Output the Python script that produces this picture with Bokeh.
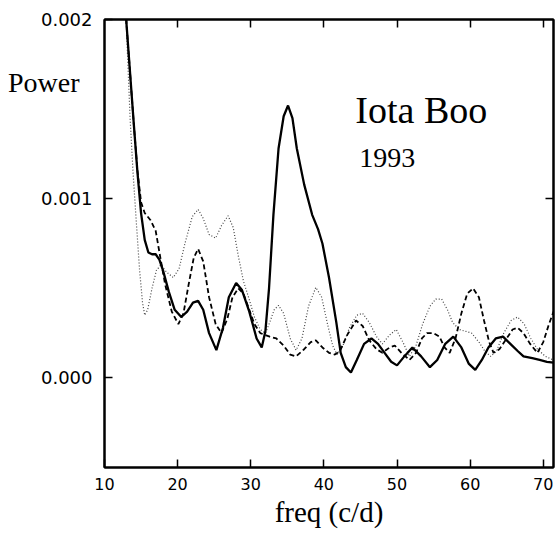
import numpy as np
from bokeh.plotting import figure
from bokeh.models import (LinearAxis, FixedTicker, PrintfTickFormatter, Label, Range1d,
                          CustomJSTickFormatter)
from bokeh.embed import file_html
from bokeh.resources import INLINE

# ---- data (power in units of 1e-3) ----
solid_freq = [12.5, 13.0, 13.5, 14.0, 14.5, 15.0, 15.5, 16.0, 16.5, 17.0, 17.5, 18.0, 18.8, 19.6,
              20.5, 21.3, 22.1, 22.8, 23.5, 24.3, 25.3, 26.2, 27.0, 28.0, 28.8, 29.8, 30.8, 31.5,
              32.0, 32.5, 33.1, 33.8, 34.5, 35.1, 35.7, 36.3, 37.3, 38.4, 39.2, 39.8, 40.7, 41.7,
              42.3, 43.0, 43.7, 44.5, 45.5, 46.5, 47.4, 48.3, 49.2, 50.0, 51.0, 52.1, 53.3, 54.5,
              55.5, 56.6, 57.7, 58.8, 59.8, 60.7, 61.6, 62.5, 63.5, 64.5, 65.5, 66.5, 67.3, 68.5,
              69.5, 70.5, 71.4]
solid_pow = [2.45, 1.98, 1.70, 1.42, 1.15, 0.92, 0.77, 0.70, 0.69, 0.69, 0.66, 0.60, 0.48, 0.38,
             0.34, 0.37, 0.42, 0.43, 0.38, 0.25, 0.155, 0.28, 0.45, 0.53, 0.49, 0.37, 0.22, 0.17,
             0.26, 0.50, 0.91, 1.28, 1.46, 1.52, 1.45, 1.28, 1.08, 0.91, 0.83, 0.75, 0.56, 0.31,
             0.14, 0.06, 0.03, 0.10, 0.19, 0.22, 0.19, 0.14, 0.09, 0.07, 0.12, 0.17, 0.12, 0.06,
             0.10, 0.19, 0.23, 0.17, 0.08, 0.045, 0.10, 0.17, 0.22, 0.23, 0.19, 0.15, 0.12, 0.11,
             0.10, 0.09, 0.085]

dashed_freq = [12.5, 13.0, 13.5, 14.0, 14.5, 15.0, 15.5, 16.3, 17.0, 17.6, 18.3, 19.2, 20.1, 20.8,
               21.5, 22.2, 22.8, 23.5, 24.3, 25.2, 26.0, 26.8, 27.5, 28.3, 29.0, 29.8, 30.5, 31.3,
               32.6, 33.5, 34.5, 35.4, 36.2, 37.3, 38.2, 38.9, 39.8, 40.7, 41.5, 42.2, 43.2, 44.4,
               45.3, 46.2, 47.2, 48.0, 49.0, 49.7, 50.6, 51.7, 52.6, 53.4, 54.1, 55.0, 55.8, 56.5,
               57.2, 58.0, 58.8, 59.6, 60.4, 61.2, 61.9, 62.6, 63.2, 64.0, 65.0, 65.8, 66.5, 67.3,
               68.2, 69.2, 70.0, 70.7, 71.4]
dashed_pow = [2.45, 1.98, 1.70, 1.42, 1.16, 0.98, 0.92, 0.88, 0.82, 0.68, 0.52, 0.37, 0.30, 0.36,
              0.52, 0.67, 0.72, 0.65, 0.45, 0.30, 0.25, 0.33, 0.45, 0.50, 0.47, 0.38, 0.30, 0.25,
              0.23, 0.22, 0.18, 0.13, 0.12, 0.16, 0.20, 0.21, 0.17, 0.14, 0.13, 0.15, 0.24, 0.32,
              0.29, 0.21, 0.16, 0.14, 0.17, 0.18, 0.14, 0.10, 0.14, 0.22, 0.25, 0.25, 0.23, 0.17,
              0.14, 0.22, 0.36, 0.47, 0.50, 0.45, 0.32, 0.20, 0.14, 0.16, 0.22, 0.27, 0.28, 0.25,
              0.19, 0.14, 0.20, 0.29, 0.37]

dotted_freq = [12.5, 13.0, 13.5, 13.9, 14.3, 14.8, 15.2, 15.5, 15.9, 16.5, 17.1, 17.7, 18.5, 19.4,
               20.2, 21.0, 22.0, 22.8, 23.5, 24.3, 25.2, 26.0, 26.9, 27.6, 28.3, 29.0, 29.7, 30.5,
               31.3, 32.0, 32.6, 33.2, 33.8, 34.5, 35.4, 36.2, 37.0, 37.9, 38.9, 39.7, 40.5, 41.2,
               41.8, 42.6, 43.5, 44.5, 45.3, 46.2, 47.2, 48.0, 49.0, 49.9, 50.8, 51.7, 52.6, 53.5,
               54.5, 55.3, 56.1, 56.9, 57.6, 58.5, 59.4, 60.2, 61.2, 62.0, 62.8, 63.6, 64.6, 65.6,
               66.5, 67.4, 68.3, 69.2, 70.3, 71.4]
dotted_pow = [2.45, 1.95, 1.45, 1.15, 0.90, 0.60, 0.42, 0.35, 0.38, 0.50, 0.60, 0.63, 0.59, 0.56,
              0.61, 0.75, 0.90, 0.94, 0.89, 0.80, 0.78, 0.85, 0.905, 0.84, 0.68, 0.54, 0.45, 0.34,
              0.27, 0.25, 0.31, 0.38, 0.405, 0.36, 0.22, 0.155, 0.22, 0.40, 0.505, 0.45, 0.30, 0.18,
              0.13, 0.18, 0.28, 0.35, 0.36, 0.31, 0.23, 0.19, 0.24, 0.27, 0.20, 0.12, 0.18, 0.30,
              0.40, 0.44, 0.44, 0.38, 0.31, 0.27, 0.26, 0.25, 0.20, 0.15, 0.12, 0.15, 0.25, 0.32,
              0.34, 0.30, 0.22, 0.16, 0.12, 0.10]

x_ticks = [10, 20, 30, 40, 50, 60, 70]
y_ticks = [0.0, 0.001, 0.002]
power_label_pos = [0.001646]

SCALE = 1e-3

p = figure(width=557, height=534,
           x_range=Range1d(10, 71.4), y_range=Range1d(-0.0005, 0.002),
           output_backend="svg", toolbar_location=None,
           min_border_left=104, min_border_right=4, min_border_top=19, min_border_bottom=67)
p.xgrid.visible = False
p.ygrid.visible = False
p.outline_line_color = "black"
p.outline_line_width = 2
p.background_fill_color = "white"
p.border_fill_color = "white"

tick_font = "DejaVu Sans"
serif = "Liberation Serif"

xa = p.xaxis[0]
xa.ticker = FixedTicker(ticks=x_ticks)
xa.major_tick_in = 8
xa.major_tick_out = 0
xa.minor_tick_line_color = None
xa.axis_line_width = 2
xa.major_tick_line_width = 1.5
xa.major_label_text_font = tick_font
xa.major_label_text_font_size = "16px"
xa.major_label_text_color = "black"
xa.major_label_standoff = 10
xa.axis_label = "freq (c/d)"
xa.axis_label_text_font = serif
xa.axis_label_text_font_style = "normal"
xa.axis_label_text_font_size = "29px"
xa.axis_label_text_color = "black"
xa.axis_label_standoff = 3

ya = p.yaxis[0]
ya.ticker = FixedTicker(ticks=y_ticks)
ya.formatter = PrintfTickFormatter(format="%.3f")
ya.major_tick_in = 8
ya.major_tick_out = 0
ya.minor_tick_line_color = None
ya.axis_line_width = 2
ya.major_tick_line_width = 1.5
ya.major_label_text_font = tick_font
ya.major_label_text_font_size = "18px"
ya.major_label_text_color = "black"
ya.major_label_standoff = 12

# "Power" label, drawn as the tick label of an outer, line-less axis
pw = LinearAxis(ticker=FixedTicker(ticks=power_label_pos),
                formatter=CustomJSTickFormatter(code="return 'Power'"),
                axis_line_color=None, major_tick_line_color=None, minor_tick_line_color=None,
                major_tick_in=0, major_tick_out=0, major_label_standoff=-42,
                major_label_text_font=serif, major_label_text_font_size="28px",
                major_label_text_color="black")
p.add_layout(pw, "left")

blank = "return ''"
top = LinearAxis(ticker=FixedTicker(ticks=x_ticks[1:]), major_tick_in=8, major_tick_out=0,
                 minor_tick_line_color=None, axis_line_width=2, major_tick_line_width=1.5,
                 formatter=CustomJSTickFormatter(code=blank), major_label_text_color=None,
                 major_label_standoff=0)
p.add_layout(top, "above")
right = LinearAxis(ticker=FixedTicker(ticks=y_ticks[:2]), major_tick_in=8, major_tick_out=0,
                   minor_tick_line_color=None, axis_line_width=2, major_tick_line_width=1.5,
                   formatter=CustomJSTickFormatter(code=blank), major_label_text_color=None,
                   major_label_standoff=0)
p.add_layout(right, "right")

p.line(dotted_freq, np.array(dotted_pow) * SCALE, line_color="#444444", line_width=1.2,
       line_dash="1 2")
p.line(dashed_freq, np.array(dashed_pow) * SCALE, line_color="black", line_width=1.8,
       line_dash="5 3")
p.line(solid_freq, np.array(solid_pow) * SCALE, line_color="black", line_width=2.3)

p.add_layout(Label(x=44.3, y=1.497e-3, text="Iota Boo", text_font=serif,
                   text_font_size="38px", text_baseline="alphabetic", text_color="black"))
p.add_layout(Label(x=44.85, y=1.229e-3, text="1993", text_font=serif,
                   text_font_size="28px", text_baseline="alphabetic", text_color="black"))

open("out.html", "w").write(file_html(p, INLINE))
